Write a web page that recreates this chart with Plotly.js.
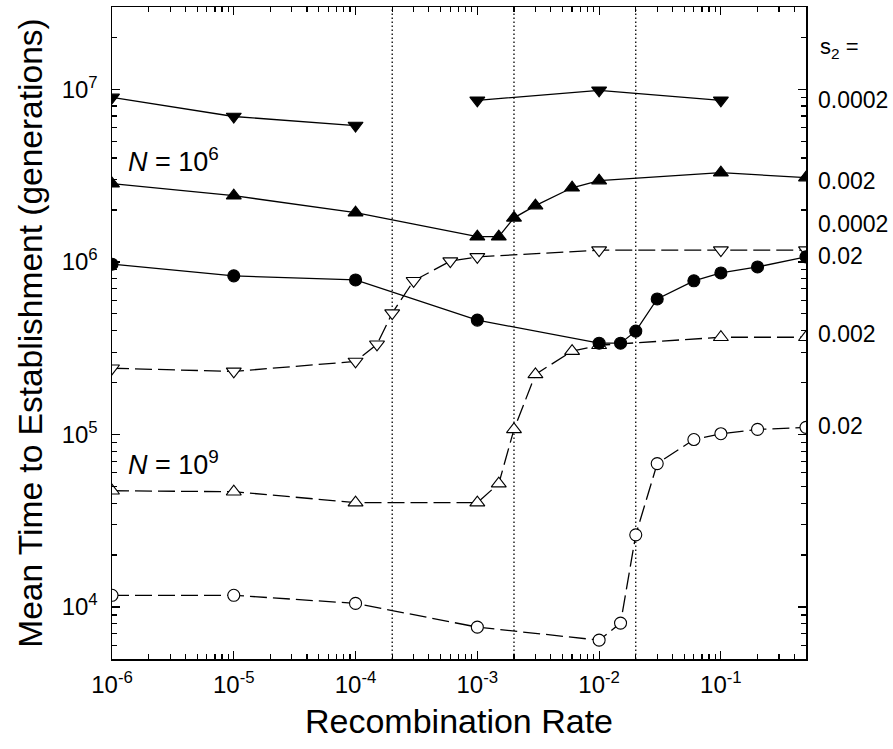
<!DOCTYPE html>
<html>
<head>
<meta charset="utf-8">
<script src="https://cdn.plot.ly/plotly-3.0.1.min.js"></script>
<style>html,body{margin:0;padding:0;background:#fff;}#chart{width:893px;height:749px;}</style>
</head>
<body>
<div id="chart"></div>
<script>
// ---- data ----
// N = 10^6 (filled, solid lines)
var xFilledDown = [1e-6, 1e-5, 1e-4, null, 1e-3, 1e-2, 1e-1];
var yFilledDown = [8.98e6, 6.96e6, 6.17e6, null, 8.64e6, 9.87e6, 8.64e6];

var xFilledUp = [1e-6, 1e-5, 1e-4, 1e-3, 1.5e-3, 2e-3, 3e-3, 6e-3, 1e-2, 1e-1, 0.5];
var yFilledUp = [2.84e6, 2.42e6, 1.93e6, 1.40e6, 1.40e6, 1.80e6, 2.12e6, 2.69e6, 2.96e6, 3.29e6, 3.08e6];

var xFilledCircle = [1e-6, 1e-5, 1e-4, 1e-3, 1e-2, 1.5e-2, 2e-2, 3e-2, 6e-2, 1e-1, 2e-1, 0.5];
var yFilledCircle = [9.7e5, 8.3e5, 7.86e5, 4.6e5, 3.38e5, 3.38e5, 3.97e5, 6.1e5, 7.77e5, 8.63e5, 9.35e5, 1.07e6];

// N = 10^9 (open, dashed lines)
var xOpenDown = [1e-6, 1e-5, 1e-4, 1.5e-4, 2e-4, 3e-4, 6e-4, 1e-3, 1e-2, 1e-1, 0.5];
var yOpenDown = [2.42e5, 2.32e5, 2.65e5, 3.33e5, 5.05e5, 7.77e5, 1.01e6, 1.07e6, 1.17e6, 1.17e6, 1.17e6];

var xOpenUp = [1e-6, 1e-5, 1e-4, 1e-3, 1.5e-3, 2e-3, 3e-3, 6e-3, 1e-2, 1e-1, 0.5];
var yOpenUp = [4.72e4, 4.66e4, 4.03e4, 4.03e4, 5.19e4, 1.07e5, 2.23e5, 3.04e5, 3.29e5, 3.66e5, 3.66e5];

var xOpenCircle = [1e-6, 1e-5, 1e-4, 1e-3, 1e-2, 1.5e-2, 2e-2, 3e-2, 6e-2, 1e-1, 2e-1, 0.5];
var yOpenCircle = [1.17e4, 1.17e4, 1.05e4, 7.65e3, 6.43e3, 8.07e3, 2.62e4, 6.78e4, 9.35e4, 1.01e5, 1.07e5, 1.10e5];

// vertical dotted reference lines
var dividers = [2e-4, 2e-3, 2e-2];

// axes
var xMajor = [1e-6, 1e-5, 1e-4, 1e-3, 1e-2, 1e-1];
var xMajorText = ['10<sup>-6</sup>', '10<sup>-5</sup>', '10<sup>-4</sup>', '10<sup>-3</sup>', '10<sup>-2</sup>', '10<sup>-1</sup>'];
var yMajor = [1e4, 1e5, 1e6, 1e7];
var yMajorText = ['10<sup>4</sup>', '10<sup>5</sup>', '10<sup>6</sup>', '10<sup>7</sup>'];
var xRange = [1e-6, 0.5];
var yRange = [5e3, 3e7];

// right-hand s2 labels
var s2Labels = ['0.0002', '0.002', '0.0002', '0.02', '0.002', '0.02'];

// ---- build ----
function minorTicks(lo, hi) {
  var out = [];
  for (var e = Math.floor(Math.log10(lo)); e <= Math.ceil(Math.log10(hi)); e++) {
    for (var m = 2; m <= 9; m++) {
      var v = m * Math.pow(10, e);
      if (v >= lo * 0.999 && v <= hi * 1.001) out.push(v);
    }
  }
  return out;
}

var FONT = 'Liberation Sans, Arial, Helvetica, sans-serif';
var traces = [];

dividers.forEach(function (d) {
  traces.push({x: [d, d], y: yRange, mode: 'lines', line: {color: 'black', width: 1.3, dash: '1.5px,2.5px'}, hoverinfo: 'skip', showlegend: false});
});

function series(x, y, symbol, filled, dashed) {
  return {
    x: x, y: y, mode: 'lines+markers', connectgaps: false, showlegend: false, hoverinfo: 'skip',
    line: {color: 'black', width: 1.3, dash: dashed ? '17px,6px' : 'solid'},
    marker: {symbol: symbol, size: symbol === 'circle' ? 12 : 13, color: filled ? 'black' : 'white', line: {color: 'black', width: 1.1}}
  };
}

traces.push(series(xOpenDown, yOpenDown, 'triangle-down', false, true));
traces.push(series(xOpenUp, yOpenUp, 'triangle-up', false, true));
traces.push(series(xOpenCircle, yOpenCircle, 'circle', false, true));
traces.push(series(xFilledDown, yFilledDown, 'triangle-down', true, false));
traces.push(series(xFilledUp, yFilledUp, 'triangle-up', true, false));
traces.push(series(xFilledCircle, yFilledCircle, 'circle', true, false));

var labelY = [0.857, 0.733, 0.667, 0.618, 0.498, 0.357];
var annotations = [
  {xref: 'paper', yref: 'paper', x: 1.017, y: 0.937, xanchor: 'left', yanchor: 'middle', showarrow: false,
   text: 's<sub>2</sub> =', font: {family: FONT, size: 22, color: 'black'}},
  {xref: 'paper', yref: 'paper', x: 0.02, y: 0.765, xanchor: 'left', yanchor: 'middle', showarrow: false,
   text: '<i>N</i> = 10<sup>6</sup>', font: {family: FONT, size: 27, color: 'black'}},
  {xref: 'paper', yref: 'paper', x: 0.02, y: 0.301, xanchor: 'left', yanchor: 'middle', showarrow: false,
   text: '<i>N</i> = 10<sup>9</sup>', font: {family: FONT, size: 27, color: 'black'}}
];
s2Labels.forEach(function (t, i) {
  annotations.push({xref: 'paper', yref: 'paper', x: 1.015, y: labelY[i], xanchor: 'left', yanchor: 'middle', showarrow: false,
    text: t, font: {family: FONT, size: 23, color: 'black'}});
});

var axisCommon = {
  showgrid: false, zeroline: false, showline: true, linecolor: 'black', linewidth: 1.5,
  ticks: 'inside', ticklen: 8, tickwidth: 1.2, tickcolor: 'black', mirror: 'ticks',
  tickfont: {family: FONT, size: 24, color: 'black'}
};

var layout = {
  width: 893, height: 749,
  margin: {l: 112, r: 87, t: 7, b: 90},
  paper_bgcolor: 'white', plot_bgcolor: 'white',
  font: {family: FONT, color: 'black'},
  xaxis: Object.assign({}, axisCommon, {
    type: 'log', range: [Math.log10(xRange[0]), Math.log10(xRange[1])],
    tickmode: 'array', tickvals: xMajor, ticktext: xMajorText,
    minor: {tickmode: 'array', tickvals: minorTicks(xRange[0], xRange[1]), ticks: 'inside', ticklen: 5, tickwidth: 1.2, tickcolor: 'black', showgrid: false},
    ticklabelstandoff: 4,
    title: {text: 'Recombination Rate', font: {family: FONT, size: 34, color: 'black'}, standoff: 12}
  }),
  yaxis: Object.assign({}, axisCommon, {
    type: 'log', range: [Math.log10(yRange[0]), Math.log10(yRange[1])],
    tickmode: 'array', tickvals: yMajor, ticktext: yMajorText,
    minor: {tickmode: 'array', tickvals: minorTicks(yRange[0], yRange[1]), ticks: 'inside', ticklen: 5, tickwidth: 1.2, tickcolor: 'black', showgrid: false},
    ticklabelstandoff: 8,
    title: {text: 'Mean Time to Establishment (generations)', font: {family: FONT, size: 33.5, color: 'black'}, standoff: 9}
  }),
  annotations: annotations
};

Plotly.newPlot('chart', traces, layout, {staticPlot: true, displayModeBar: false});
</script>
</body>
</html>
